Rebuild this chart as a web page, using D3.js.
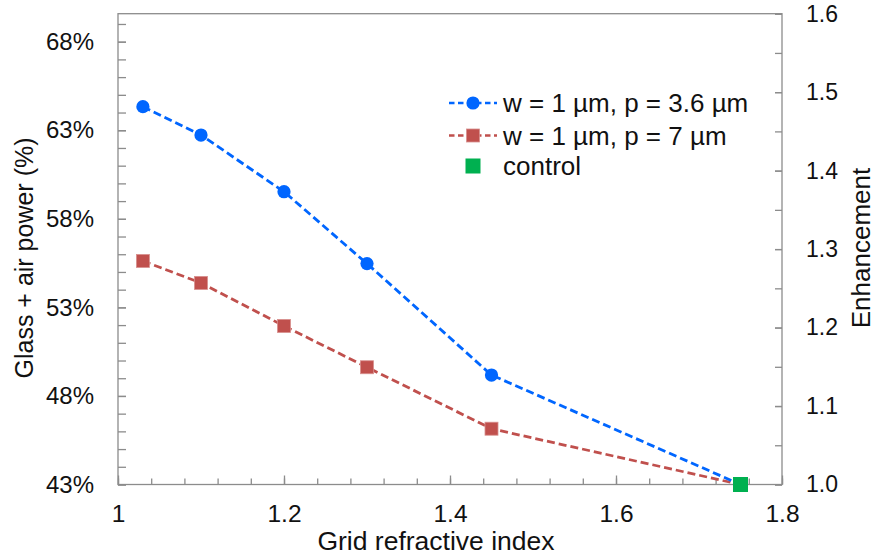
<!DOCTYPE html>
<html>
<head>
<meta charset="utf-8">
<script src="https://cdn.jsdelivr.net/npm/d3@7"></script>
<style>
  html, body { margin: 0; padding: 0; background: #fff; }
  svg { display: block; font-family: "Liberation Sans", Arial, sans-serif; }
</style>
</head>
<body>
<svg id="chart" width="877" height="556"></svg>
<script>
// Grid refractive index for each simulated structure
const gridIndex = [1.03, 1.1, 1.2, 1.3, 1.45, 1.75];
// Glass + air power (%) per grid geometry
const seriesNarrow = [64.33, 62.73, 59.53, 55.47, 49.18, 43.0];   // w = 1 µm, p = 3.6 µm
const seriesWide   = [55.62, 54.38, 51.95, 49.62, 46.15, 43.0];   // w = 1 µm, p = 7 µm
const controlIndex = [1.75];
const controlPower = [43.0];

const seriesNames = ["w = 1 µm, p = 3.6 µm", "w = 1 µm, p = 7 µm", "control"];

const xTicks = [1, 1.2, 1.4, 1.6, 1.8];
const leftTicks = [43, 48, 53, 58, 63, 68];
const rightTicks = [1.0, 1.1, 1.2, 1.3, 1.4, 1.5, 1.6];

const blue = "#0066ff", red = "#c0504d", green = "#00b050", axisGray = "#8c8c8c";

(function draw() {
  const svg = d3.select("#chart");
  svg.append("rect").attr("width", 877).attr("height", 556).attr("fill", "#fff");

  const plotL = 118, plotR = 782, plotT = 13.7, plotB = 484.5;
  const x = d3.scaleLinear().domain([1, 1.8]).range([plotL, plotR]);
  const yL = d3.scaleLinear().domain([43, 69.58]).range([plotB, plotT]);
  const yR = d3.scaleLinear().domain([1.0, 1.6]).range([plotB, plotT]);

  // plot frame
  svg.append("rect")
    .attr("x", plotL).attr("y", plotT)
    .attr("width", plotR - plotL).attr("height", plotB - plotT)
    .attr("fill", "none").attr("stroke", axisGray).attr("stroke-width", 1.3);

  function styleAxis(g) {
    g.select(".domain").remove();
    g.selectAll(".tick line").attr("stroke", axisGray).attr("stroke-width", 1.3);
    g.selectAll(".tick text").attr("fill", "#111").attr("font-family", "Liberation Sans, Arial, sans-serif");
  }

  // bottom axis: minor ticks every 0.04, major every 0.2
  svg.append("g").attr("transform", `translate(0,${plotB})`)
    .call(d3.axisBottom(x).tickValues(d3.range(0, 21).map(i => 1 + i * 0.04)).tickSize(-6).tickFormat(""))
    .call(styleAxis);
  svg.append("g").attr("transform", `translate(0,${plotB})`)
    .call(d3.axisBottom(x).tickValues(xTicks).tickSize(-9).tickPadding(20).tickFormat(d => String(+d.toFixed(1))))
    .call(styleAxis)
    .call(g => g.selectAll(".tick text").attr("font-size", 24.5).attr("dy", "0.71em"));

  // left axis: ticks every 1 %
  svg.append("g").attr("transform", `translate(${plotL},0)`)
    .call(d3.axisLeft(yL).tickValues(d3.range(43, 70, 1)).tickSize(-8).tickFormat(""))
    .call(styleAxis);
  svg.append("g").attr("transform", `translate(${plotL},0)`)
    .call(d3.axisLeft(yL).tickValues(leftTicks).tickSize(-8).tickPadding(24).tickFormat(d => d + "%"))
    .call(styleAxis)
    .call(g => g.selectAll(".tick text").attr("font-size", 24));

  // right axis: enhancement, ticks every 0.05
  svg.append("g").attr("transform", `translate(${plotR},0)`)
    .call(d3.axisRight(yR).tickValues(d3.range(0, 13).map(i => 1 + i * 0.05)).tickSize(-7).tickFormat(""))
    .call(styleAxis);
  svg.append("g").attr("transform", `translate(${plotR},0)`)
    .call(d3.axisRight(yR).tickValues(rightTicks).tickSize(-7).tickPadding(24).tickFormat(d3.format(".1f")))
    .call(styleAxis)
    .call(g => g.selectAll(".tick text").attr("font-size", 23));

  // axis titles
  svg.append("text").attr("x", 436).attr("y", 550).attr("text-anchor", "middle")
    .attr("font-size", 26.5).attr("fill", "#111").text("Grid refractive index");
  svg.append("text").attr("transform", "translate(33,258) rotate(-90)").attr("text-anchor", "middle")
    .attr("font-size", 25).attr("fill", "#111").text("Glass + air power (%)");
  svg.append("text").attr("transform", "translate(870,248) rotate(-90)").attr("text-anchor", "middle")
    .attr("font-size", 26).attr("fill", "#111").text("Enhancement");

  // series
  const line = d3.line().x(d => x(d[0])).y(d => yL(d[1]));
  const narrow = gridIndex.map((n, i) => [n, seriesNarrow[i]]);
  const wide = gridIndex.map((n, i) => [n, seriesWide[i]]);

  svg.append("path").datum(wide).attr("d", line).attr("fill", "none")
    .attr("stroke", red).attr("stroke-width", 2.8).attr("stroke-dasharray", "8,4");
  svg.append("path").datum(narrow).attr("d", line).attr("fill", "none")
    .attr("stroke", blue).attr("stroke-width", 2.8).attr("stroke-dasharray", "8,4");

  const sq = 13;
  svg.append("g").selectAll("rect").data(wide.slice(0, -1)).join("rect")
    .attr("x", d => x(d[0]) - sq / 2).attr("y", d => yL(d[1]) - sq / 2)
    .attr("width", sq).attr("height", sq).attr("fill", red).attr("stroke", "#d8908e").attr("stroke-width", 0.8);
  svg.append("g").selectAll("circle").data(narrow.slice(0, -1)).join("circle")
    .attr("cx", d => x(d[0])).attr("cy", d => yL(d[1])).attr("r", 6.6).attr("fill", blue);

  const control = controlIndex.map((n, i) => [n, controlPower[i]]);
  const gs = 15;
  svg.append("g").selectAll("rect").data(control).join("rect")
    .attr("x", d => x(d[0]) - gs / 2).attr("y", d => yL(d[1]) - gs / 2)
    .attr("width", gs).attr("height", gs).attr("fill", green);

  // legend
  const legend = svg.append("g");
  const rows = [103, 135.5, 166];
  const lx0 = 449, lx1 = 497, lm = 473, tx = 503;
  [[blue, "circle"], [red, "square"]].forEach(([c, shape], i) => {
    legend.append("line").attr("x1", lx0).attr("x2", lx1).attr("y1", rows[i]).attr("y2", rows[i])
      .attr("stroke", c).attr("stroke-width", 2.6).attr("stroke-dasharray", "5.5,3.5");
    if (shape === "circle") {
      legend.append("circle").attr("cx", lm).attr("cy", rows[i]).attr("r", 6.6).attr("fill", c);
    } else {
      legend.append("rect").attr("x", lm - sq / 2).attr("y", rows[i] - sq / 2).attr("width", sq).attr("height", sq)
        .attr("fill", c).attr("stroke", "#d8908e").attr("stroke-width", 0.8);
    }
  });
  legend.append("rect").attr("x", lm - 7.5).attr("y", rows[2] - 7.5).attr("width", 15).attr("height", 15).attr("fill", green);
  seriesNames.forEach((s, i) => {
    legend.append("text").attr("x", tx).attr("y", rows[i]).attr("dy", "0.36em")
      .attr("font-size", 26).attr("fill", "#111").text(s);
  });
})();
</script>
</body>
</html>
